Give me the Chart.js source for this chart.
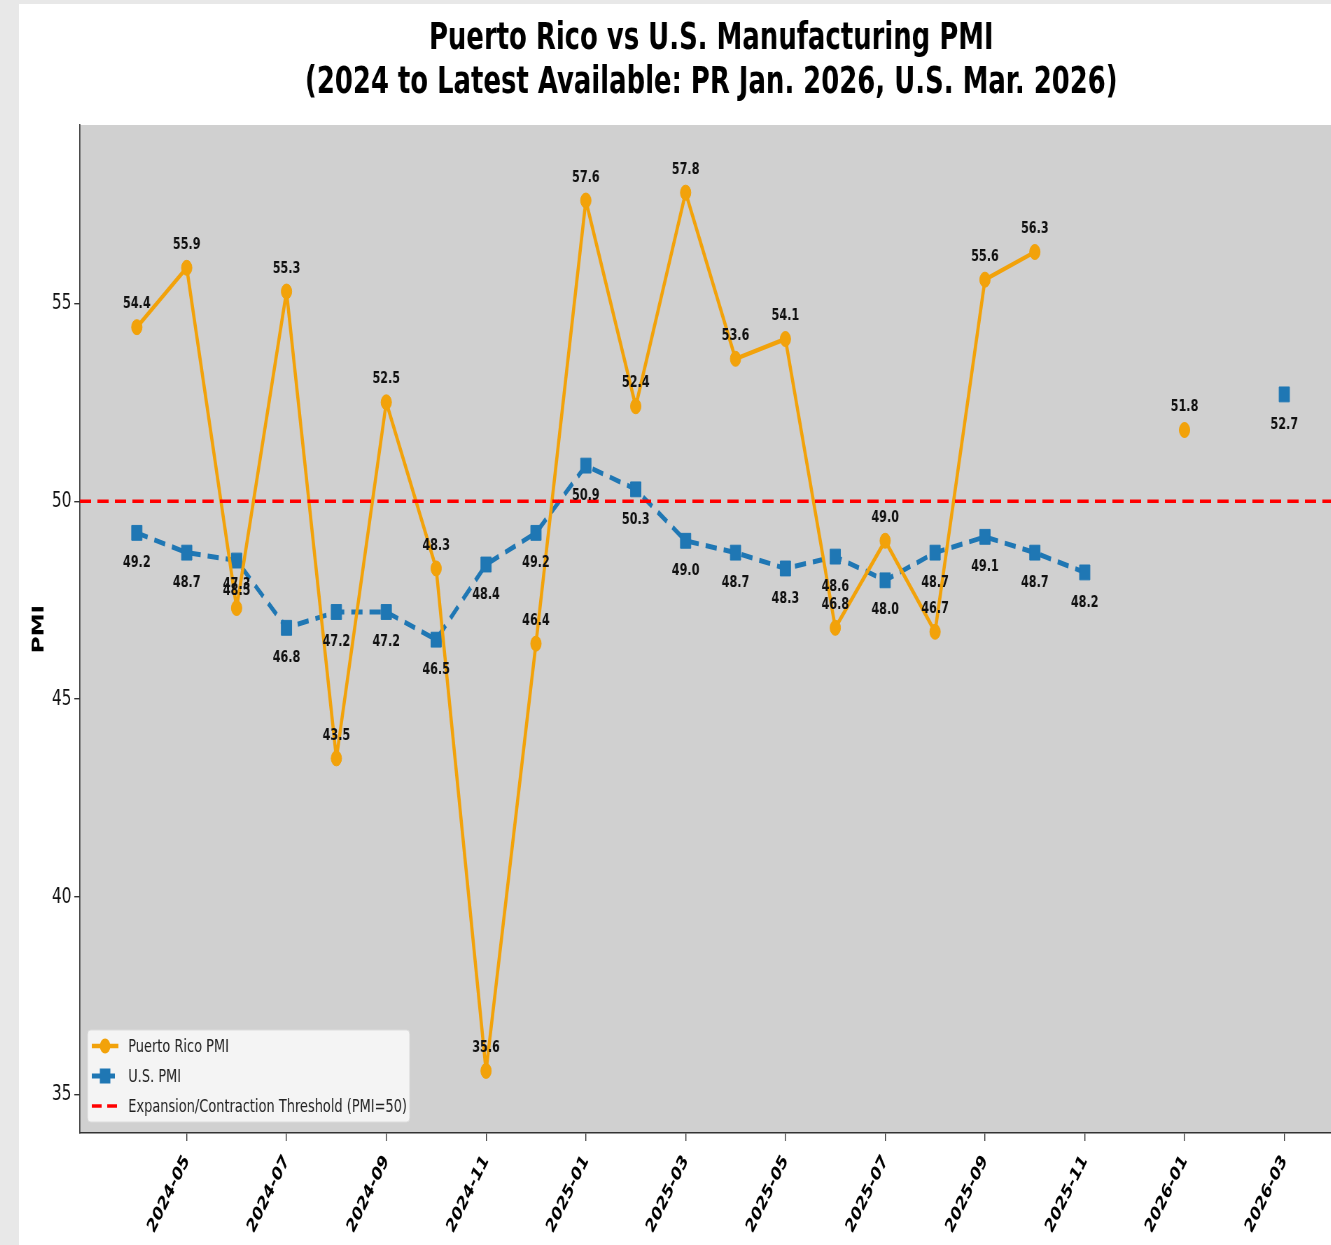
<!DOCTYPE html>
<html>
<head>
<meta charset="utf-8">
<script src="https://cdn.jsdelivr.net/npm/chart.js@4.4.1/dist/chart.umd.min.js"></script>
<style>
  html, body { margin: 0; padding: 0; background: #e8e8e8; }
  body { width: 1331px; height: 1245px; position: relative; overflow: hidden; }
  #frame { position: absolute; left: 19px; top: 4px; width: 1312px; height: 1241px; background: #fff; overflow: hidden; }
  #squash { width: 1978px; height: 1241px; transform: scaleX(0.7); transform-origin: 0 0; }
</style>
</head>
<body>
<div id="frame"><div id="squash"><canvas id="chart"></canvas></div></div>
<script>
// monthly data, 2024-04 .. 2026-03
const months = ["2024-04", "2024-05", "2024-06", "2024-07", "2024-08", "2024-09", "2024-10", "2024-11", "2024-12",
  "2025-01", "2025-02", "2025-03", "2025-04", "2025-05", "2025-06", "2025-07", "2025-08", "2025-09", "2025-10",
  "2025-11", "2025-12", "2026-01", "2026-02", "2026-03"];
const prPmi = [54.4, 55.9, 47.3, 55.3, 43.5, 52.5, 48.3, 35.6, 46.4, 57.6, 52.4, 57.8, 53.6, 54.1, 46.8, 49.0, 46.7, 55.6, 56.3, null, null, 51.8, null, null];
const usPmi = [49.2, 48.7, 48.5, 46.8, 47.2, 47.2, 46.5, 48.4, 49.2, 50.9, 50.3, 49.0, 48.7, 48.3, 48.6, 48.0, 48.7, 49.1, 48.7, 48.2, null, null, null, 52.7];
const threshold = 50;
const xTickLabels = ["2024-05", "2024-07", "2024-09", "2024-11", "2025-01", "2025-03", "2025-05", "2025-07", "2025-09", "2025-11", "2026-01", "2026-03"];
const yTickValues = [35, 40, 45, 50, 55];

const FONT = '"DejaVu Sans", sans-serif';
const ORANGE = '#f2a20a';
const BLUE = '#1f77b4';
const RED = '#ff0000';
const X_MIN = -1.141, X_MAX = 25.23;

const plotBg = {
  id: 'plotBg',
  beforeDraw(chart) {
    const a = chart.chartArea, ctx = chart.ctx;
    ctx.save();
    ctx.fillStyle = '#d0d0d0';
    ctx.fillRect(a.left, a.top, a.right - a.left, a.bottom - a.top);
    ctx.restore();
  }
};

// value labels: PR above the point, U.S. below
const pointLabels = {
  id: 'pointLabels',
  afterDatasetsDraw(chart) {
    const ctx = chart.ctx;
    ctx.save();
    ctx.font = 'bold 16px ' + FONT;
    ctx.fillStyle = '#111';
    ctx.textAlign = 'center';
    ctx.textBaseline = 'middle';
    [[0, -23], [1, 30]].forEach(([di, dy]) => {
      const ds = chart.data.datasets[di];
      chart.getDatasetMeta(di).data.forEach((pt, i) => {
        const v = ds.data[i].y;
        if (v === null) return;
        ctx.fillText(v.toFixed(1), pt.x, pt.y + dy);
      });
    });
    ctx.restore();
  }
};

// legend box in lower-left corner of the plot
const legendBox = {
  id: 'legendBox',
  afterDraw(chart) {
    const ctx = chart.ctx;
    const x0 = 98, y0 = 1026, w = 460, h = 92;
    ctx.save();
    ctx.fillStyle = 'rgba(246,246,246,0.92)';
    ctx.strokeStyle = '#dcdcdc';
    ctx.lineWidth = 1;
    ctx.beginPath();
    ctx.roundRect(x0, y0, w, h, 4);
    ctx.fill();
    ctx.stroke();

    const items = [
      { text: 'Puerto Rico PMI', color: ORANGE, dash: [], lw: 4.5, marker: 'circle' },
      { text: 'U.S. PMI', color: BLUE, dash: [13, 7], lw: 5, marker: 'rect' },
      { text: 'Expansion/Contraction Threshold (PMI=50)', color: RED, dash: [14, 8], lw: 3.5, marker: null }
    ];
    items.forEach((it, k) => {
      const y = 1042 + k * 30;
      ctx.strokeStyle = it.color;
      ctx.lineWidth = it.lw;
      ctx.setLineDash(it.dash);
      ctx.beginPath();
      ctx.moveTo(104, y);
      ctx.lineTo(142, y);
      ctx.stroke();
      ctx.setLineDash([]);
      ctx.fillStyle = it.color;
      if (it.marker === 'circle') {
        ctx.beginPath();
        ctx.arc(123, y, 7.5, 0, Math.PI * 2);
        ctx.fill();
      } else if (it.marker === 'rect') {
        ctx.fillRect(115.5, y - 7.5, 15, 15);
      }
      ctx.fillStyle = '#222';
      ctx.font = '18.5px ' + FONT;
      ctx.textAlign = 'left';
      ctx.textBaseline = 'middle';
      ctx.fillText(it.text, 156, y + 1);
    });
    ctx.restore();
  }
};

const axisGrid = { display: true, drawOnChartArea: false, drawTicks: true, tickLength: 8, color: '#333', lineWidth: 1.4 };
const axisBorder = { display: true, color: '#333', width: 1.6 };

new Chart(document.getElementById('chart'), {
  type: 'line',
  data: {
    datasets: [
      {
        label: 'Puerto Rico PMI',
        data: prPmi.map((v, i) => ({ x: i, y: v })),
        borderColor: ORANGE, backgroundColor: ORANGE,
        borderWidth: 4.5, borderJoinStyle: 'round', pointStyle: 'circle', pointRadius: 7.5, pointBorderWidth: 1,
        tension: 0, order: 1
      },
      {
        label: 'U.S. PMI',
        data: usPmi.map((v, i) => ({ x: i, y: v })),
        borderColor: BLUE, backgroundColor: BLUE,
        borderWidth: 5, borderDash: [16, 10], borderJoinStyle: 'round', pointStyle: 'rect', pointRadius: 10.5, pointBorderWidth: 1,
        tension: 0, order: 2
      },
      {
        label: 'Expansion/Contraction Threshold (PMI=50)',
        data: [{ x: X_MIN, y: threshold }, { x: X_MAX, y: threshold }],
        borderColor: RED, borderWidth: 3.5, borderDash: [16, 9], pointRadius: 0, order: 0
      }
    ]
  },
  options: {
    responsive: true,
    maintainAspectRatio: false,
    animation: false,
    layout: { padding: 0 },
    plugins: {
      legend: { display: false },
      tooltip: { enabled: false },
      title: {
        display: true,
        text: ['Puerto Rico vs U.S. Manufacturing PMI', '(2024 to Latest Available: PR Jan. 2026, U.S. Mar. 2026)'],
        color: '#000',
        font: { family: FONT, size: 37, weight: 'bold', lineHeight: 1.2 },
        padding: { top: 13, bottom: 19.2 }
      }
    },
    scales: {
      x: {
        type: 'linear', min: X_MIN, max: X_MAX,
        afterBuildTicks: s => { s.ticks = xTickLabels.map(l => ({ value: months.indexOf(l) })); },
        afterFit: s => { s.height = 112; },
        grid: axisGrid, border: axisBorder,
        ticks: {
          autoSkip: false, minRotation: 55, maxRotation: 55, padding: 10,
          color: '#000', font: { family: FONT, size: 19.5, weight: 'bold' },
          callback: v => months[v]
        }
      },
      y: {
        min: 34.03, max: 59.51,
        afterBuildTicks: s => { s.ticks = yTickValues.map(v => ({ value: v })); },
        afterFit: s => { s.width = 87; },
        grid: axisGrid, border: axisBorder,
        ticks: { color: '#111', font: { family: FONT, size: 22 }, padding: 4 },
        title: {
          display: true, text: 'PMI', color: '#000',
          font: { family: FONT, size: 23, weight: 'bold' },
          padding: { top: 15, bottom: 0 }
        }
      }
    }
  },
  plugins: [plotBg, pointLabels, legendBox]
});
</script>
</body>
</html>
